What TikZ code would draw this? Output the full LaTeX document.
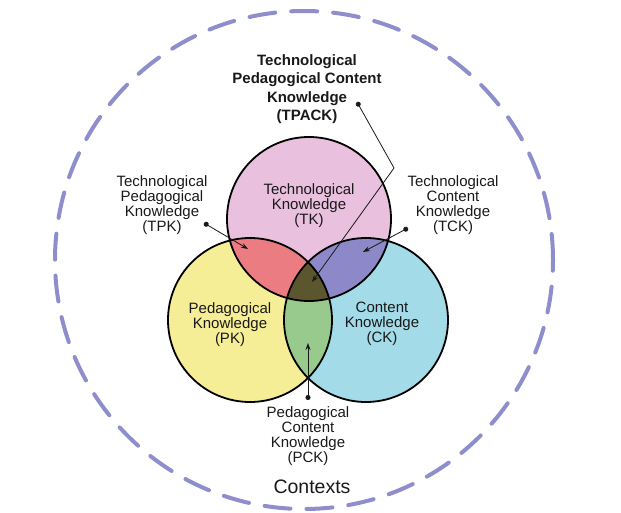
\documentclass[tikz,border=0pt]{standalone}
\usepackage{fontspec}
\setmainfont{Liberation Sans}
\usepackage{xcolor}
\usetikzlibrary{arrows.meta,positioning}

\definecolor{tkpink}{RGB}{233,192,221}
\definecolor{pkyellow}{RGB}{246,238,150}
\definecolor{ckblue}{RGB}{163,219,232}
\definecolor{tpkred}{RGB}{234,124,130}
\definecolor{tckpurple}{RGB}{141,137,200}
\definecolor{pckgreen}{RGB}{152,202,142}
\definecolor{tpackolive}{RGB}{92,86,46}
\definecolor{ctxlav}{RGB}{142,142,204}

\begin{document}
\begin{tikzpicture}[x=1pt, y=-1pt,
    field/.style={circle, draw, line width=1.8pt, minimum size=164pt, inner sep=0pt},
    lbl/.style={align=center, font=\fontsize{15}{15}\selectfont, text=black!90},
    pointer/.style={line width=0.8pt, black!90, {Circle[length=5pt]}-{Stealth[length=7pt, width=5pt]}}]
    \useasboundingbox (0,0) rectangle (621,513);

    % Contexts
    \node[circle, draw=ctxlav, line width=4pt, dash pattern=on 26pt off 16pt, line cap=round, minimum size=498pt, inner sep=0pt] (ctx) at (304,260) {};
    \node[align=center, font=\fontsize{19.5}{20}\selectfont, text=black!90] (ctxTxt) at (312,487) {Contexts};

    % Knowledge circles
    \coordinate (ctk) at (309,219);
    \coordinate (cpk) at (250,320);
    \coordinate (cck) at (366,320);
    \fill[tkpink] (ctk) circle (82pt);
    \fill[pkyellow] (cpk) circle (82pt);
    \fill[ckblue] (cck) circle (82pt);
    \begin{scope}
        \clip (ctk) circle (82pt);
        \fill[tpkred] (cpk) circle (82pt);
        \fill[tckpurple] (cck) circle (82pt);
    \end{scope}
    \begin{scope}
        \clip (cpk) circle (82pt);
        \fill[pckgreen] (cck) circle (82pt);
        \clip (ctk) circle (82pt);
        \fill[tpackolive] (cck) circle (82pt);
    \end{scope}
    \node[field] (tk) at (ctk) {};
    \node[field] (pk) at (cpk) {};
    \node[field] (ck) at (cck) {};

    % Circle texts
    \node[lbl] (tkTxt) at (309,206) {Technological\\Knowledge\\(TK)};
    \node[lbl] (pkTxt) at (230,325) {Pedagogical\\Knowledge\\(PK)};
    \node[lbl] (ckTxt) at (382,324) {Content\\Knowledge\\(CK)};

    % Overlap labels
    \node[lbl, font=\bfseries\fontsize{15}{18.5}\selectfont] (tpackTxt) at (307,89) {Technological\\Pedagogical Content\\Knowledge\\(TPACK)};
    \node[lbl] (tpkTxt) at (162,205) {Technological\\Pedagogical\\Knowledge\\(TPK)};
    \node[lbl] (tckTxt) at (453,205) {Technological\\Content\\Knowledge\\(TCK)};
    \node[lbl] (pckTxt) at (308,436) {Pedagogical\\Content\\Knowledge\\(PCK)};

    % Pointers
    \coordinate (tpackDot) at (357,102);
    \coordinate (tpackBend) at (394,168);
    \coordinate (tpackEnd) at (312,282);
    \coordinate (tpkDot) at (204,223);
    \coordinate (tpkEnd) at (248,249);
    \coordinate (tckDot) at (408,228);
    \coordinate (tckEnd) at (363,252);
    \coordinate (pckDot) at (308,400);
    \coordinate (pckEnd) at (308,343);
    \draw[pointer] (tpackDot) -- (tpackBend) -- (tpackEnd);
    \draw[pointer] (tpkDot) -- (tpkEnd);
    \draw[pointer] (tckDot) -- (tckEnd);
    \draw[pointer] (pckDot) -- (pckEnd);

\end{tikzpicture}
\end{document}
